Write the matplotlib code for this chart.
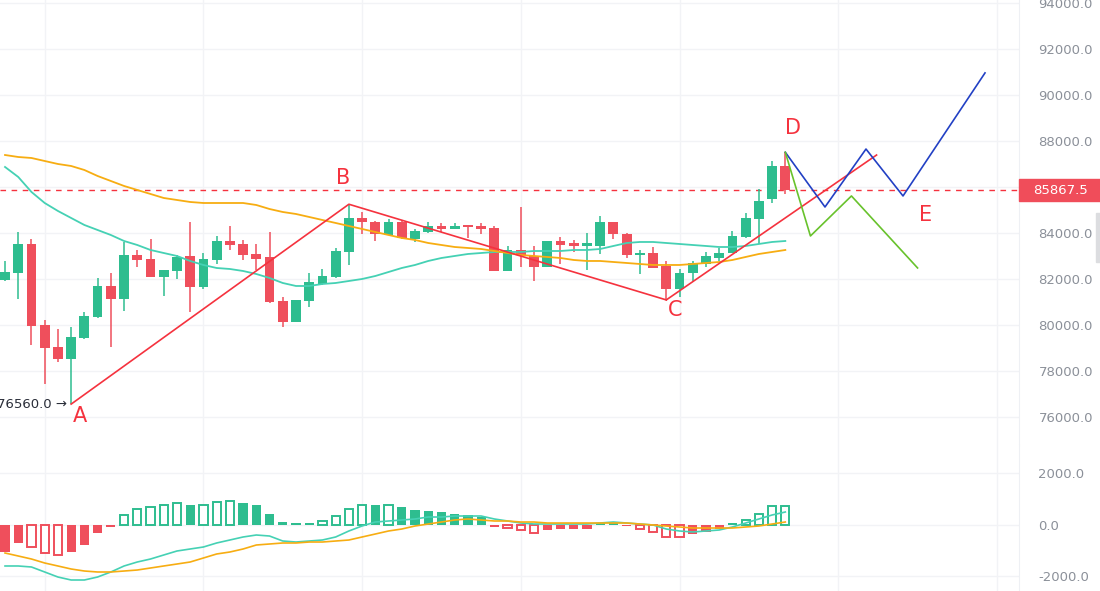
import matplotlib
matplotlib.use("Agg")
import matplotlib.pyplot as plt
from matplotlib.patches import Rectangle
import numpy as np

# daily candles
opens = [81960, 82250, 83520, 80000, 79030, 78510, 79420, 80340, 81700, 81140,
         83040, 82860, 82090, 82350, 83000, 81640, 82830, 83650, 83520, 83090,
         82940, 81040, 80120, 81060, 81780, 82070, 83160, 84670, 84490, 83930,
         84470, 83750, 84030, 84290, 84190, 84350, 84320, 84230, 82360, 83260,
         83010, 82510, 83650, 83550, 83450, 83450, 84470, 83950, 83040, 83140,
         82560, 81550, 82250, 82650, 82930, 83120, 83810, 84620, 85470, 86910]
highs = [82780, 84030, 83730, 80220, 79830, 79900, 80580, 82060, 82250, 83620,
         83260, 83740, 82400, 83040, 84490, 83140, 83870, 84320, 83700, 83520,
         84040, 81230, 81100, 82250, 82430, 83340, 85250, 84900, 84500, 84610,
         84570, 84170, 84470, 84420, 84420, 84360, 84420, 84300, 83450, 85140,
         83430, 83660, 83840, 83700, 84010, 84740, 84480, 83990, 83260, 83400,
         82780, 82430, 82780, 83190, 83340, 84090, 84860, 85900, 87130, 87510]
lows = [81900, 81120, 79140, 77420, 78380, 76560, 79400, 80290, 79040, 80620,
        82510, 82080, 81270, 82000, 80580, 81580, 82650, 83260, 82830, 82390,
        80940, 79910, 80110, 80770, 81730, 82060, 82610, 83940, 83660, 83920,
        83760, 83600, 84000, 84060, 84180, 83770, 83960, 82360, 82350, 82510,
        81930, 82500, 82650, 83190, 82390, 83070, 83730, 82930, 82220, 82480,
        81090, 81230, 81930, 82530, 82780, 83110, 83800, 83520, 85320, 85700]
closes = [82290, 83520, 79970, 78990, 78510, 79470, 80390, 81700, 81140, 83040,
          82840, 82090, 82390, 82970, 81650, 82870, 83650, 83490, 83040, 82870,
          80990, 80120, 81090, 81860, 82130, 83220, 84670, 84470, 83940, 84470,
          83770, 84070, 84290, 84190, 84290, 84270, 84190, 82360, 83260, 83040,
          82510, 83650, 83490, 83450, 83550, 84470, 83940, 83040, 83140, 82490,
          81550, 82270, 82680, 83000, 83140, 83870, 84670, 85390, 86910, 85867.5]

ma_fast = [86870, 86435, 85783, 85304, 84957, 84652, 84348, 84130, 83913, 83652,
           83478, 83261, 83130, 83000, 82783, 82609, 82478, 82435, 82348, 82217,
           82043, 81826, 81696, 81696, 81783, 81826, 81913, 82000, 82130, 82304,
           82478, 82609, 82783, 82913, 83000, 83087, 83130, 83174, 83174, 83174,
           83217, 83217, 83217, 83261, 83261, 83304, 83435, 83565, 83609, 83609,
           83565, 83522, 83478, 83435, 83391, 83391, 83435, 83522, 83609, 83652]
ma_slow = [87391, 87304, 87261, 87130, 87000, 86913, 86739, 86478, 86261, 86044,
           85870, 85696, 85522, 85435, 85348, 85304, 85304, 85304, 85304, 85217,
           85043, 84913, 84826, 84696, 84565, 84435, 84304, 84174, 84043, 83913,
           83783, 83696, 83565, 83478, 83391, 83348, 83304, 83217, 83130, 83043,
           83000, 82957, 82913, 82826, 82783, 82783, 82739, 82696, 82652, 82609,
           82609, 82609, 82652, 82696, 82739, 82826, 82957, 83087, 83174, 83261]

# MACD panel
hist = [-1070, -720, -890, -1110, -1190, -1070, -780, -340, -80, 375,
        610, 670, 760, 850, 740, 760, 890, 900, 850, 760,
        410, 90, 70, 70, 130, 320, 610, 760, 750, 770,
        670, 570, 530, 470, 410, 350, 280, -90, -130, -220,
        -340, -220, -190, -190, -160, 60, 60, -50, -170, -280,
        -470, -480, -380, -280, -180, 50, 170, 410, 720, 730]
dif = [-1611, -1611, -1650, -1844, -2039, -2155, -2155, -2039, -1844, -1611,
       -1456, -1340, -1184, -1029, -951, -874, -718, -602, -485, -408,
       -447, -641, -680, -641, -602, -485, -252, -58, 97, 136,
       175, 214, 291, 291, 330, 330, 330, 214, 136, 58,
       19, 19, 19, 19, 19, 58, 97, 58, 19, -19,
       -175, -252, -291, -252, -214, -97, 58, 214, 369, 485]
dea = [-1107, -1223, -1340, -1495, -1611, -1728, -1806, -1844, -1844, -1806,
       -1767, -1689, -1611, -1534, -1456, -1301, -1145, -1068, -951, -796,
       -757, -718, -718, -680, -680, -641, -602, -485, -369, -252,
       -175, -58, 19, 97, 175, 214, 175, 136, 136, 97,
       97, 58, 58, 58, 58, 58, 58, 58, 19, -19,
       -58, -97, -136, -136, -136, -136, -97, -58, 19, 97]

# wave drawing A-B-C and projections
wave_idx = [5, 26, 50, 65.9]
wave_price = [76560, 85250, 81090, 87390]
blue_idx = [59, 62.0, 65.1, 67.9, 74.1]
blue_price = [87510, 85130, 87650, 85610, 90960]
green_idx = [59, 60.9, 64.0, 69.0]
green_price = [87510, 83870, 85610, 82480]
wave_labels = ["A", "B", "C", "D", "E"]
label_idx = [5.7, 25.6, 50.7, 59.6, 69.6]
label_price = [76040, 86390, 80650, 88560, 84780]

price_ticks = [76000, 78000, 80000, 82000, 84000, 86000, 88000, 90000, 92000, 94000]
macd_ticks = [-2000, 0, 2000]

UP = "#2ebd8f"
DOWN = "#ef4f5c"
TEAL = "#45d1b4"
ORANGE = "#f7ad12"
WAVE = "#f5323e"
GRID = "#f2f3f6"
TICK = "#8b9099"

plt.rcParams["font.family"] = ["DejaVu Sans"]

fig = plt.figure(figsize=(11, 5.91), dpi=100)
W = 1019 / 1100
ax = fig.add_axes([0, 1 - 445 / 591, W, 445 / 591])
ax2 = fig.add_axes([0, 0, W, 146 / 591])

x = np.arange(len(opens))
last = closes[-1]

for a in (ax, ax2):
    a.set_xlim(-0.38, 76.67)
    a.set_xticks([])
    for s in ["top", "left", "bottom"]:
        a.spines[s].set_visible(False)
    a.spines["right"].set_color("#eef0f4")
    for gx in range(3, 77, 12):
        a.axvline(gx, color=GRID, lw=1, zorder=0)
    a.yaxis.tick_right()
    a.tick_params(axis="y", length=0, pad=14, labelsize=9.5, labelcolor=TICK)

# main panel
ax.set_ylim(74782, 94130)
ax.set_yticks(price_ticks)
# the last-price box covers the tick label next to it
ax.set_yticklabels(["" if abs(t - last) < 600 else f"{t:.1f}" for t in price_ticks])
for t in price_ticks:
    ax.axhline(t, color=GRID, lw=1, zorder=0)

for i in x:
    o, h, l, c = opens[i], highs[i], lows[i], closes[i]
    col = UP if c >= o else DOWN
    ax.vlines(i, l, h, color=col, lw=1.1, zorder=2)
    body = max(abs(c - o), 60)
    ax.bar(i, body, bottom=min(o, c), width=0.74, color=col, zorder=3)

ax.plot(x, ma_fast, color=TEAL, lw=1.3, zorder=4)
ax.plot(x, ma_slow, color=ORANGE, lw=1.3, zorder=4)

ax.plot(wave_idx[:3], wave_price[:3], color=WAVE, lw=1.2, zorder=5)
ax.plot(wave_idx[2:], wave_price[2:], color=WAVE, lw=1.2, zorder=5)
ax.plot(blue_idx, blue_price, color="#2240c4", lw=1.2, zorder=5)
ax.plot(green_idx, green_price, color="#68c22c", lw=1.2, zorder=5)
for lab, li, lp in zip(wave_labels, label_idx, label_price):
    ax.text(li, lp, lab, color=WAVE, fontsize=15, ha="center", va="center", zorder=6)

low_i = int(np.argmin(lows))
ax.text(low_i - 0.3, lows[low_i], f"{lows[low_i]:.1f} \u2192", color="#2a2e39",
        fontsize=9.5, ha="right", va="center", zorder=6)

ax.axhline(last, color=WAVE, lw=1, ls=(0, (4, 4)), zorder=1)
ax.add_patch(Rectangle((1.0, last - 460), 0.09, 920, transform=ax.get_yaxis_transform(),
                       color="#f04d5a", clip_on=False, zorder=10))
ax.annotate(f"{last:.1f}", xy=(1.0, last), xycoords=("axes fraction", "data"),
            xytext=(10, 0), textcoords="offset points", color="white", fontsize=9.5,
            ha="left", va="center", zorder=11, annotation_clip=False)

# MACD panel
ax2.set_ylim(-2582, 3087)
ax2.set_yticks(macd_ticks)
ax2.set_yticklabels([f"{t:.1f}" for t in macd_ticks])
for t in macd_ticks:
    ax2.axhline(t, color=GRID, lw=1, zorder=0)

for i in x:
    v = hist[i]
    col = UP if v >= 0 else DOWN
    grow = i > 0 and abs(v) > abs(hist[i - 1])
    if grow:
        ax2.bar(i, v, width=0.62, facecolor="white", edgecolor=col, lw=1.4, zorder=3)
    else:
        ax2.bar(i, v, width=0.7, color=col, zorder=3)

ax2.plot(x, dif, color=TEAL, lw=1.2, zorder=4)
ax2.plot(x, dea, color=ORANGE, lw=1.2, zorder=4)

fig.patches.append(Rectangle((1096 / 1100, 1 - 262 / 591), 6 / 1100, 49 / 591,
                             transform=fig.transFigure, color="#dcdde0"))

fig.savefig("out.png", dpi=100)
